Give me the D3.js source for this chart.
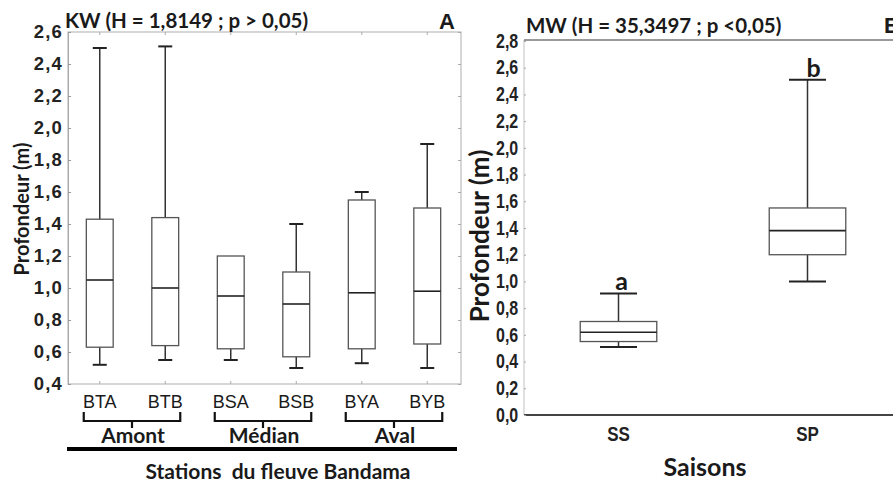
<!DOCTYPE html>
<html>
<head>
<meta charset="utf-8">
<script src="https://cdn.jsdelivr.net/npm/d3@7"></script>
<style>
  body { margin: 0; background: #fff; }
  svg { display: block; }
  .num { font-family: "Liberation Sans", Arial, sans-serif; font-weight: bold; fill: #222; }
  .ttl { font-family: Lato, "Open Sans", sans-serif; font-weight: bold; fill: #1a1a1a; }
  .cat { font-family: "Liberation Sans", Arial, sans-serif; fill: #1a1a1a; }
</style>
</head>
<body>
<svg id="chart" width="893" height="484"></svg>
<script>
// --- Panel A : stations ---
const stations = ['BTA', 'BTB', 'BSA', 'BSB', 'BYA', 'BYB'];
const stMin    = [0.52, 0.55, 0.55, 0.50, 0.53, 0.50];
const stQ1     = [0.63, 0.64, 0.62, 0.57, 0.62, 0.65];
const stMedian = [1.05, 1.00, 0.95, 0.90, 0.97, 0.98];
const stQ3     = [1.43, 1.44, 1.20, 1.10, 1.55, 1.50];
const stMax    = [2.50, 2.51, 1.20, 1.40, 1.60, 1.90];
const yTicksA  = [0.4, 0.6, 0.8, 1.0, 1.2, 1.4, 1.6, 1.8, 2.0, 2.2, 2.4, 2.6];
const zones    = ['Amont', 'Médian', 'Aval'];
const zoneStations = [['BTA', 'BTB'], ['BSA', 'BSB'], ['BYA', 'BYB']];

// --- Panel B : saisons ---
const seasons   = ['SS', 'SP'];
const seMin     = [0.51, 1.00];
const seQ1      = [0.55, 1.20];
const seMedian  = [0.62, 1.38];
const seQ3      = [0.70, 1.55];
const seMax     = [0.91, 2.51];
const seLetters = ['a', 'b'];
const yTicksB   = [0.0, 0.2, 0.4, 0.6, 0.8, 1.0, 1.2, 1.4, 1.6, 1.8, 2.0, 2.2, 2.4, 2.6, 2.8];

const svg = d3.select('#chart');
const fmt = v => d3.format('.1f')(v).replace('.', ',');

function boxes(g, x, y, cats, mn, q1, md, q3, mx, boxFrac, capW) {
  cats.forEach((c, i) => {
    const cx = x(c) + x.bandwidth() / 2;
    const bw = x.bandwidth() * boxFrac;
    const gg = g.append('g');
    // moustaches
    if (mx[i] > q3[i]) {
      gg.append('line').attr('x1', cx).attr('x2', cx).attr('y1', y(q3[i])).attr('y2', y(mx[i])).attr('stroke', '#333').attr('stroke-width', 1.5);
      gg.append('line').attr('x1', cx - capW / 2).attr('x2', cx + capW / 2).attr('y1', y(mx[i])).attr('y2', y(mx[i])).attr('stroke', '#222').attr('stroke-width', 2);
    }
    gg.append('line').attr('x1', cx).attr('x2', cx).attr('y1', y(q1[i])).attr('y2', y(mn[i])).attr('stroke', '#333').attr('stroke-width', 1.5);
    gg.append('line').attr('x1', cx - capW / 2).attr('x2', cx + capW / 2).attr('y1', y(mn[i])).attr('y2', y(mn[i])).attr('stroke', '#222').attr('stroke-width', 2);
    // boite
    gg.append('rect').attr('x', cx - bw / 2).attr('y', y(q3[i])).attr('width', bw).attr('height', y(q1[i]) - y(q3[i]))
      .attr('fill', 'none').attr('stroke', '#555').attr('stroke-width', 1.3);
    gg.append('line').attr('x1', cx - bw / 2).attr('x2', cx + bw / 2).attr('y1', y(md[i])).attr('y2', y(md[i])).attr('stroke', '#222').attr('stroke-width', 1.6);
  });
}

// ================= Panel A =================
const xA = d3.scaleBand().domain(stations).range([67, 460]);
const yA = d3.scaleLinear().domain([0.4, 2.6]).range([384, 32]);
const gA = svg.append('g');

gA.append('rect').attr('x', 68).attr('y', 32).attr('width', 393).attr('height', 352)
  .attr('fill', 'none').attr('stroke', '#bbb').attr('stroke-width', 1.2);

const axA = gA.append('g').attr('transform', 'translate(68,0)')
  .call(d3.axisLeft(yA).tickValues(yTicksA).tickFormat(fmt).tickSize(-3).tickPadding(5));
axA.select('.domain').attr('stroke', '#aaa');
axA.selectAll('.tick line').attr('stroke', '#999');
axA.selectAll('.tick text').attr('class', 'num').style('font-size', '18.5px').style('letter-spacing', '1.2px');

const axAr = gA.append('g').attr('transform', 'translate(461,0)')
  .call(d3.axisLeft(yA).tickValues(yTicksA).tickSize(3).tickFormat(''));
axAr.select('.domain').remove();
axAr.selectAll('.tick line').attr('stroke', '#aaa');

const axAt = gA.append('g').attr('transform', 'translate(0,32)')
  .call(d3.axisBottom(xA).tickSize(3).tickFormat(''));
axAt.select('.domain').remove();
axAt.selectAll('.tick line').attr('stroke', '#aaa');

const axAb = gA.append('g').attr('transform', 'translate(0,384)')
  .call(d3.axisTop(xA).tickSize(3).tickPadding(-27));
axAb.select('.domain').remove();
axAb.selectAll('.tick line').attr('stroke', '#aaa');
axAb.selectAll('.tick text').attr('class', 'cat').style('font-size', '18px');

boxes(gA, xA, yA, stations, stMin, stQ1, stMedian, stQ3, stMax, 0.41, 14);

// accolades + zones
zones.forEach((z, i) => {
  const a = xA(zoneStations[i][0]) + xA.bandwidth() / 2 - 16;
  const b = xA(zoneStations[i][1]) + xA.bandwidth() / 2 + 15;
  const m = (a + b) / 2;
  gA.append('path').attr('d', `M${a},412 V421 H${b} V412 M${m},421 V428`)
    .attr('fill', 'none').attr('stroke', '#111').attr('stroke-width', 2.2);
  gA.append('text').attr('class', 'ttl').attr('x', m + 1).attr('y', 443).attr('text-anchor', 'middle')
    .style('font-size', '21px').text(z);
});
gA.append('line').attr('x1', 67).attr('x2', 457).attr('y1', 449).attr('y2', 449).attr('stroke', '#000').attr('stroke-width', 4);
gA.append('text').attr('class', 'ttl').attr('x', 278).attr('y', 479).attr('text-anchor', 'middle')
  .style('font-size', '21px').attr('xml:space', 'preserve').text('Stations  du fleuve Bandama');

gA.append('text').attr('class', 'ttl').attr('x', 65).attr('y', 28).style('font-size', '20.5px').text('KW (H = 1,8149 ; p > 0,05)');
gA.append('text').attr('class', 'cat').attr('x', 439).attr('y', 29).style('font-size', '22px').style('font-weight', 'bold').text('A');
gA.append('text').attr('class', 'ttl').attr('transform', 'translate(29,209) rotate(-90)').attr('text-anchor', 'middle')
  .style('font-size', '20px').text('Profondeur (m)');

// ================= Panel B =================
const xB = d3.scaleBand().domain(seasons).range([524, 902]);
const yB = d3.scaleLinear().domain([0, 2.8]).range([415, 41]);
const gB = svg.append('g');

gB.append('line').attr('x1', 524).attr('x2', 524).attr('y1', 40).attr('y2', 415).attr('stroke', '#ccc').attr('stroke-width', 1.2);
gB.append('line').attr('x1', 524).attr('x2', 893).attr('y1', 40).attr('y2', 40).attr('stroke', '#777').attr('stroke-width', 1.5);
gB.append('line').attr('x1', 524).attr('x2', 893).attr('y1', 415).attr('y2', 415).attr('stroke', '#444').attr('stroke-width', 2);

const axB = gB.append('g').attr('transform', 'translate(524,0)')
  .call(d3.axisLeft(yB).tickValues(yTicksB).tickFormat(fmt).tickSize(-2).tickPadding(7));
axB.select('.domain').remove();
axB.selectAll('.tick line').attr('stroke', '#aaa');
// chiffres etroits comme dans l'original
axB.selectAll('.tick text').attr('class', 'num').style('font-size', '19.5px').attr('transform', 'scale(0.82,1)');

const axBb = gB.append('g').attr('transform', 'translate(0,415)')
  .call(d3.axisBottom(xB).tickSize(0).tickPadding(12));
axBb.select('.domain').remove();
axBb.selectAll('.tick text').attr('class', 'num').style('font-size', '20px').attr('transform', 'scale(0.85,1)');

boxes(gB, xB, yB, seasons, seMin, seQ1, seMedian, seQ3, seMax, 0.405, 37);

seasons.forEach((s, i) => {
  gB.append('text').attr('class', 'ttl').attr('x', xB(s) + xB.bandwidth() / 2 + 3 + i * 3).attr('y', yB(seMax[i]) - 3)
    .attr('text-anchor', 'middle').style('font-size', '25px').text(seLetters[i]);
});

gB.append('text').attr('class', 'ttl').attr('x', 526).attr('y', 33).style('font-size', '20.5px').text('MW (H = 35,3497 ; p <0,05)');
gB.append('text').attr('class', 'cat').attr('x', 884).attr('y', 33).style('font-size', '22px').style('font-weight', 'bold').text('B');
gB.append('text').attr('class', 'ttl').attr('transform', 'translate(489,236) rotate(-90)').attr('text-anchor', 'middle')
  .style('font-size', '26px').text('Profondeur (m)');
gB.append('text').attr('class', 'ttl').attr('x', 705).attr('y', 476).attr('text-anchor', 'middle')
  .style('font-size', '25px').text('Saisons');
</script>
</body>
</html>
